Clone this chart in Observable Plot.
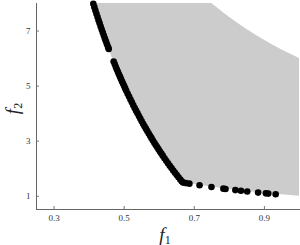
<!DOCTYPE html>
<html>
<head>
<meta charset="utf-8">
<script src="https://cdn.jsdelivr.net/npm/d3@7"></script>
<script src="https://cdn.jsdelivr.net/npm/@observablehq/plot@0.6"></script>
<style>
  html, body { margin: 0; padding: 0; background: white; }
</style>
</head>
<body>
<div id="chart"></div>
<script>
// Pareto front points (f1, f2)
const frontF1 = [0.412,0.415,0.418,0.421,0.424,0.427,0.430,0.433,0.436,0.439,0.442,0.445,0.448,0.451,0.454,0.456,
  0.470,0.473,0.476,0.479,0.482,0.485,0.488,0.491,0.494,0.497,0.500,0.503,0.506,0.510,0.514,0.518,0.522,0.526,0.530,
  0.534,0.538,0.542,0.546,0.550,0.554,0.558,0.562,0.566,0.570,0.574,0.578,0.582,0.586,0.590,0.594,0.598,0.602,0.606,
  0.610,0.615,0.620,0.625,0.630,0.635,0.640,0.645,0.650,0.655,0.660,0.664,0.668,0.676,
  0.686,0.715,0.749,0.783,0.789,0.817,0.833,0.851,0.882,0.904,0.911,0.932];
const frontF2 = [7.990,7.867,7.746,7.627,7.509,7.393,7.279,7.166,7.055,6.945,6.837,6.730,6.625,6.521,6.419,6.351,
  5.894,5.799,5.706,5.614,5.523,5.433,5.344,5.257,5.170,5.085,5.000,4.917,4.834,4.725,4.619,4.514,4.410,4.308,4.208,
  4.109,4.011,3.915,3.821,3.727,3.635,3.545,3.456,3.367,3.281,3.195,3.111,3.027,2.945,2.864,2.785,2.706,2.628,2.551,
  2.475,2.382,2.290,2.200,2.111,2.024,1.938,1.853,1.769,1.687,1.606,1.542,1.497,1.479,
  1.458,1.399,1.335,1.277,1.267,1.224,1.200,1.175,1.134,1.106,1.098,1.073];

// Feasible region boundaries
const regionF1   = [0.4118,0.43,0.45,0.475,0.5,0.525,0.55,0.575,0.6,0.625,0.65,0.6667,0.7,0.75,0.775,0.8,0.825,0.85,0.875,0.9,0.925,0.95,0.975,1.0];
const regionLow  = [8.0,7.279,6.556,5.737,5.0,4.333,3.727,3.174,2.667,2.2,1.769,1.5,1.429,1.333,1.290,1.25,1.212,1.176,1.143,1.111,1.081,1.053,1.026,1.0];
const regionHigh = [8,8,8,8,8,8,8,8,8,8,8,8,8,8,7.742,7.5,7.273,7.059,6.857,6.667,6.486,6.316,6.154,6.0];

const xTicks = [0.3, 0.5, 0.7, 0.9];
const yTicks = [1, 3, 5, 7];

const front = frontF1.map((x, i) => ({f1: x, f2: frontF2[i]}));
const region = regionF1.map((x, i) => ({f1: x, low: regionLow[i], high: regionHigh[i]}));

const chart = Plot.plot({
  width: 300,
  height: 245,
  marginLeft: 36,
  marginRight: 1,
  marginTop: 3,
  marginBottom: 36,
  x: {domain: [0.25, 1.0]},
  y: {domain: [0.52, 8]},
  style: {fontFamily: "Liberation Serif", fontSize: "9px", color: "#333", background: "white"},
  marks: [
    Plot.areaY(region, {x: "f1", y1: "low", y2: "high", fill: "#cccccc"}),
    Plot.dot(front, {x: "f1", y: "f2", r: 3.3, fill: "black", stroke: "none"}),
    Plot.frame({anchor: "bottom", stroke: "#666"}),
    Plot.frame({anchor: "left", stroke: "#666"}),
    Plot.axisX({ticks: xTicks, tickSize: -3, tickPadding: 8, tickFormat: d3.format(".1f"), stroke: "#777",
      label: "f1", labelAnchor: "center", labelOffset: 31, labelArrow: "none"}),
    Plot.axisY({ticks: yTicks, tickSize: -3, tickPadding: 9, stroke: "#777",
      label: "f2", labelAnchor: "center", labelOffset: 31, labelArrow: "none"})
  ]
});
document.getElementById("chart").appendChild(chart);

function styleLabel(sel, sub, shift) {
  const t = chart.querySelector(sel);
  if (!t) return;
  t.textContent = "";
  t.setAttribute("font-size", "19");
  t.setAttribute("fill", "#222");
  const a = document.createElementNS("http://www.w3.org/2000/svg", "tspan");
  a.setAttribute("font-style", "italic");
  a.setAttribute("dx", shift);
  a.textContent = "f";
  const b = document.createElementNS("http://www.w3.org/2000/svg", "tspan");
  b.setAttribute("font-size", "12");
  b.setAttribute("dy", "3");
  b.textContent = sub;
  t.appendChild(a); t.appendChild(b);
}
styleLabel('g[aria-label="x-axis label"] text', "1", "-3");
styleLabel('g[aria-label="y-axis label"] text', "2", "-2");
</script>
</body>
</html>
